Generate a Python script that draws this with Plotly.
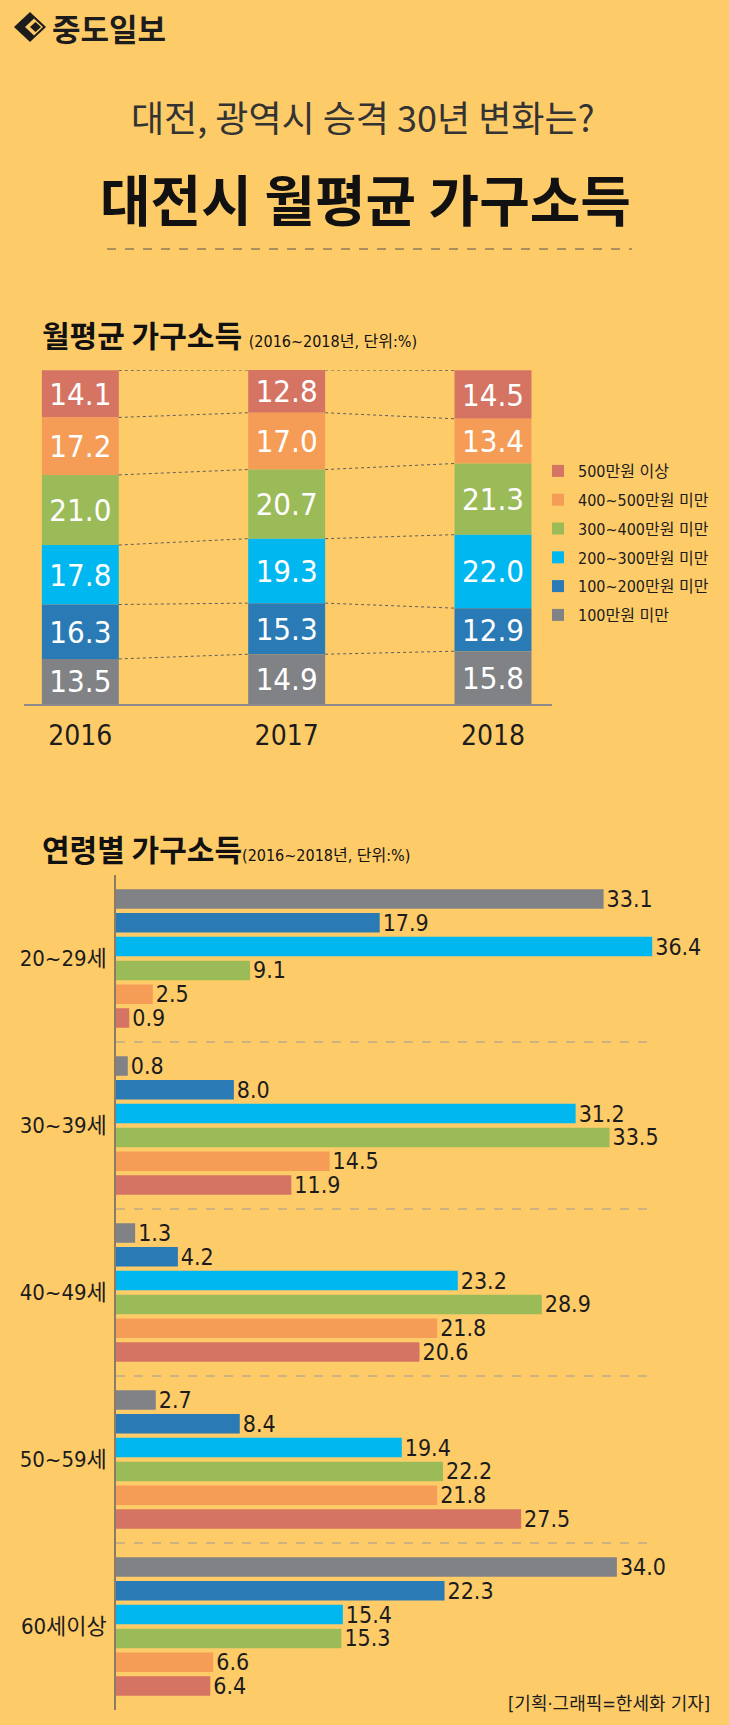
import plotly.graph_objects as go

W, H = 729, 1725
BG = "#FECB69"
INK = "#1c1c1c"
NARROW = "DejaVu Sans Condensed, Noto Sans CJK KR, sans-serif"
KR = "Noto Sans CJK KR, sans-serif"

# ---------------- data ----------------
years = ["2016", "2017", "2018"]
series_names = ["100만원 미만", "100~200만원 미만", "200~300만원 미만",
                "300~400만원 미만", "400~500만원 미만", "500만원 이상"]
series_colors = ["#818286", "#2A7AB5", "#00B8EF", "#9BBB59", "#F59D56", "#D57463"]

inc_lt100 = [13.5, 14.9, 15.8]
inc_100_200 = [16.3, 15.3, 12.9]
inc_200_300 = [17.8, 19.3, 22.0]
inc_300_400 = [21.0, 20.7, 21.3]
inc_400_500 = [17.2, 17.0, 13.4]
inc_500_up = [14.1, 12.8, 14.5]

ages = ["20~29세", "30~39세", "40~49세", "50~59세", "60세이상"]
age_lt100 = [33.1, 0.8, 1.3, 2.7, 34.0]
age_100_200 = [17.9, 8.0, 4.2, 8.4, 22.3]
age_200_300 = [36.4, 31.2, 23.2, 19.4, 15.4]
age_300_400 = [9.1, 33.5, 28.9, 22.2, 15.3]
age_400_500 = [2.5, 14.5, 21.8, 21.8, 6.6]
age_500_up = [0.9, 11.9, 20.6, 27.5, 6.4]

year_series = [inc_lt100, inc_100_200, inc_200_300, inc_300_400, inc_400_500, inc_500_up]
age_series = [age_lt100, age_100_200, age_200_300, age_300_400, age_400_500, age_500_up]


def fx(px):
    return px / W


def fy(py):
    return 1 - py / H


fig = go.Figure()

# ---------------- stacked chart ----------------
BAR_W = 0.373
half = BAR_W / 2
bases = []
levels = []
run = [0.0] * len(years)
for vals in year_series:
    bases.append(list(run))
    run = [b + v for b, v in zip(run, vals)]
    levels.append(list(run))

# add top segment first so the legend lists it first
for name, vals, col, b in reversed(list(zip(series_names, year_series, series_colors, bases))):
    fig.add_trace(go.Bar(
        x=years, y=vals, base=b, name=name,
        width=BAR_W, offset=-half,
        marker=dict(color=col, line=dict(width=0)),
        text=[f"{v:.1f}" for v in vals], textposition="inside",
        insidetextanchor="middle", textangle=0, constraintext="none",
        textfont=dict(family=NARROW, size=31, color="white"),
        legendgroup=name, hoverinfo="skip",
        xaxis="x", yaxis="y",
    ))

# dotted connectors between stacked segments (overlay linear axis x3)
for lev in levels:
    xs, ys = [], []
    for i in range(len(years) - 1):
        xs += [i + half, i + 1 - half, None]
        ys += [lev[i], lev[i + 1], None]
    fig.add_trace(go.Scatter(
        x=xs, y=ys, mode="lines", line=dict(color="#5e5e5e", width=1, dash="dot"),
        showlegend=False, hoverinfo="skip", xaxis="x3", yaxis="y",
    ))

# ---------------- horizontal grouped chart ----------------
for name, vals, col in zip(series_names, age_series, series_colors):
    fig.add_trace(go.Bar(
        y=ages, x=vals, orientation="h", name=name,
        marker=dict(color=col, line=dict(width=0)),
        texttemplate="%{x:.1f}", textposition="outside", constraintext="none",
        cliponaxis=False,
        textfont=dict(family=NARROW, size=23, color=INK),
        showlegend=False, hoverinfo="skip",
        xaxis="x2", yaxis="y2",
    ))

shapes = []
for i in range(len(ages) - 1):
    shapes.append(dict(type="line", xref="x2", yref="y2", x0=0, x1=36.3,
                       y0=i + 0.5, y1=i + 0.5,
                       line=dict(color="#9a9a9a", width=1, dash="dash")))

# dashed rule under the headline
shapes.append(dict(type="line", xref="paper", yref="paper",
                   x0=fx(107), x1=fx(632), y0=fy(249), y1=fy(249),
                   line=dict(color="#555555", width=1, dash="dash")))


def diamond(cx, cy, rx, ry):
    return (f"M{fx(cx - rx)},{fy(cy)} L{fx(cx)},{fy(cy - ry)} "
            f"L{fx(cx + rx)},{fy(cy)} L{fx(cx)},{fy(cy + ry)} Z")


# newspaper logo diamond
shapes.append(dict(type="path", xref="paper", yref="paper", path=diamond(30, 27, 16, 15),
                   fillcolor="#1c1c1c", line=dict(width=0)))
shapes.append(dict(type="path", xref="paper", yref="paper", path=diamond(34, 27, 9, 8.5),
                   fillcolor=BG, line=dict(width=0)))
shapes.append(dict(type="path", xref="paper", yref="paper", path=diamond(35.5, 27, 5.5, 5),
                   fillcolor="#1c1c1c", line=dict(width=0)))

SMALL = ("<span style='font-size:16px;font-family:DejaVu Sans Condensed, "
         "Noto Sans CJK KR'>(2016~2018년, 단위:%)</span>")

annotations = [
    dict(text="<b>중도일보</b>", x=fx(50), y=fy(27), xanchor="left", yanchor="middle",
         font=dict(family=KR, size=31, color=INK)),
    dict(text="대전, 광역시 승격 30년 변화는?", x=fx(363), y=fy(116),
         xanchor="center", yanchor="middle",
         font=dict(family=KR, size=36, color="#333333")),
    dict(text="<b>대전시 월평균 가구소득</b>", x=fx(365), y=fy(197),
         xanchor="center", yanchor="middle",
         font=dict(family=KR, size=55, color="#111111")),
    dict(text="<b>월평균 가구소득</b> " + SMALL,
         x=fx(40), y=fy(358), xanchor="left", yanchor="bottom",
         font=dict(family=KR, size=30, color="#111111")),
    dict(text="<b>연령별 가구소득</b>" + SMALL,
         x=fx(40), y=fy(872), xanchor="left", yanchor="bottom",
         font=dict(family=KR, size=30, color="#111111")),
    dict(text="[기획·그래픽=한세화 기자]", x=fx(712), y=fy(1703),
         xanchor="right", yanchor="middle",
         font=dict(family=NARROW, size=18, color=INK)),
]
for a in annotations:
    a.update(xref="paper", yref="paper", showarrow=False)

XR = [-0.273, 2.286]
fig.update_layout(
    width=W, height=H,
    margin=dict(l=0, r=0, t=0, b=0),
    paper_bgcolor=BG, plot_bgcolor="rgba(0,0,0,0)",
    barmode="group", bargap=0.145, bargroupgap=0.18,
    showlegend=True,
    legend=dict(x=fx(538), y=fy(454), xanchor="left", yanchor="top",
                traceorder="grouped", tracegroupgap=5,
                font=dict(family=NARROW, size=16, color=INK),
                bgcolor="rgba(0,0,0,0)", itemwidth=30, itemclick=False),
    xaxis=dict(domain=[fx(24), fx(552)], type="category", range=XR,
               showline=True, linecolor="#8c8c8c", linewidth=1.5,
               showgrid=False, zeroline=False, ticks="",
               tickfont=dict(family=NARROW, size=28, color=INK),
               ticklabelstandoff=6, fixedrange=True),
    xaxis3=dict(domain=[fx(24), fx(552)], range=XR, overlaying="x", anchor="y",
                visible=False, fixedrange=True),
    yaxis=dict(domain=[fy(704), fy(370)], range=[0, 100], visible=False,
               fixedrange=True),
    xaxis2=dict(domain=[fx(116), fx(720)], range=[0, 41], visible=False,
                anchor="y2", fixedrange=True),
    yaxis2=dict(domain=[fy(1710), fy(875)], type="category", range=[4.5, -0.5],
                anchor="x2", showline=True, linecolor="#8b7d62", linewidth=1.5,
                showgrid=False, zeroline=False, ticks="",
                tickfont=dict(family=NARROW, size=22, color=INK),
                ticklabelstandoff=3, fixedrange=True),
    shapes=shapes, annotations=annotations,
)

fig.write_html("out.html", config={"displayModeBar": False},
               post_script="document.body.style.margin='0';")
